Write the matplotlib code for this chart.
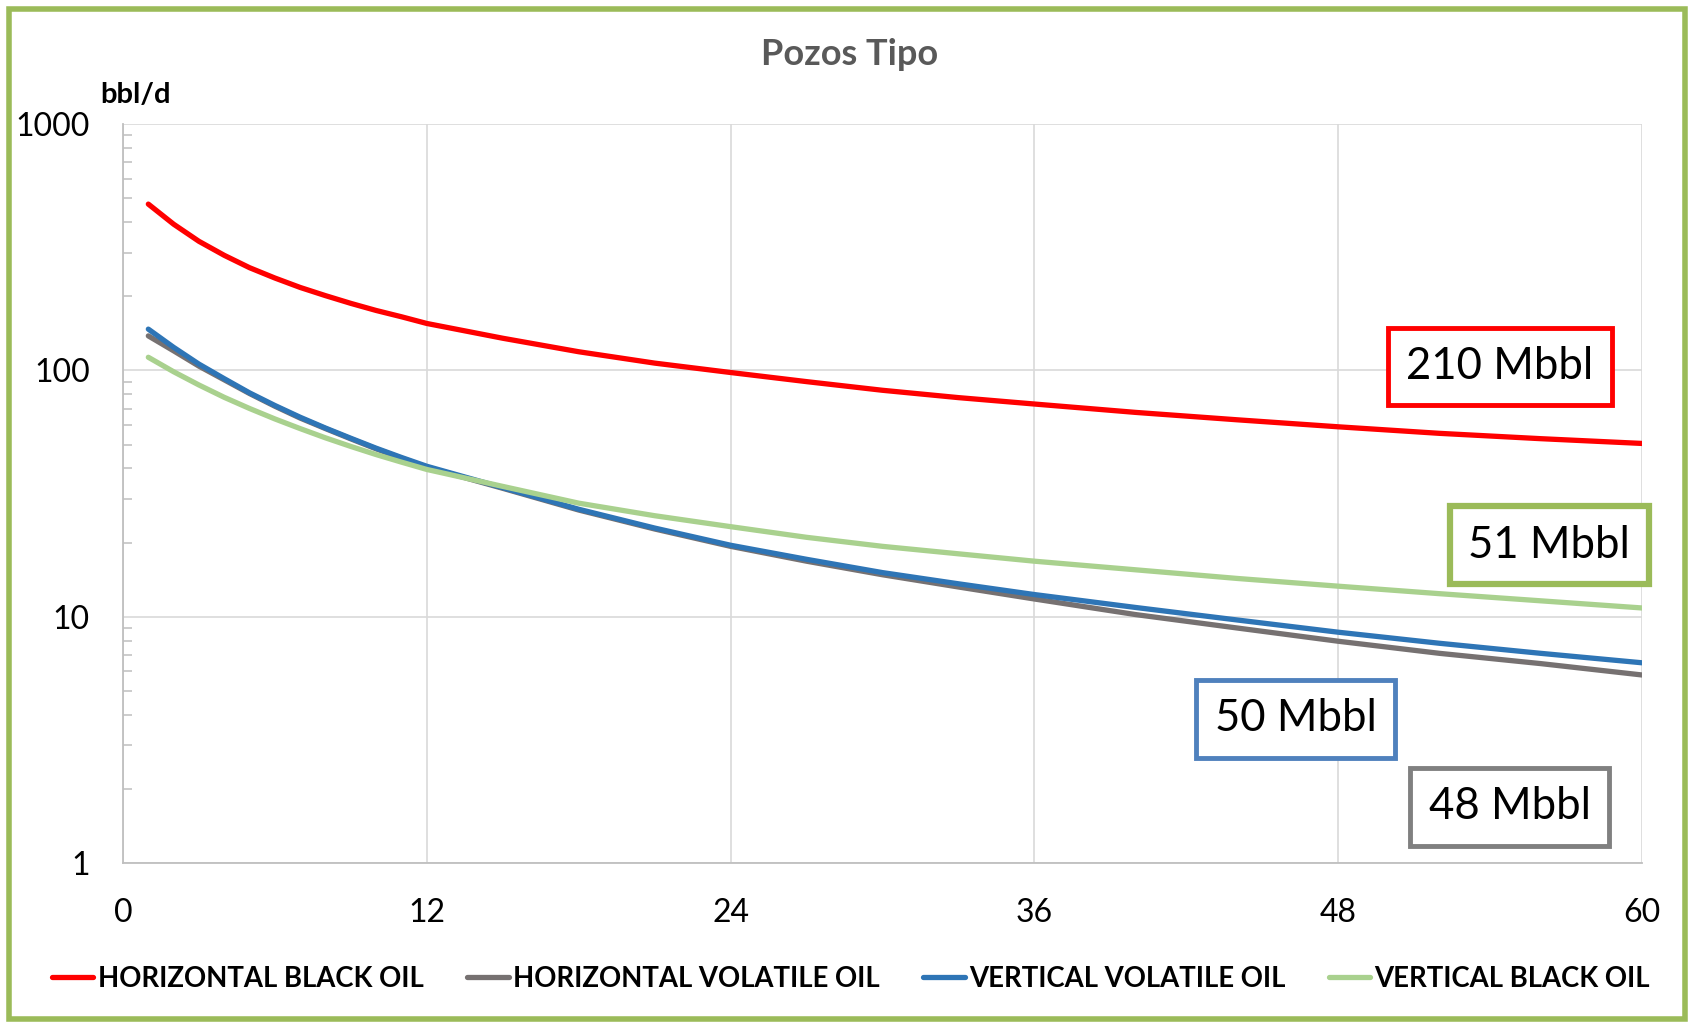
import matplotlib
matplotlib.use("Agg")
import matplotlib.pyplot as plt
from matplotlib.patches import Rectangle

plt.rcParams["font.family"] = ["Lato", "DejaVu Sans"]

months = [1, 2, 3, 4, 5, 6, 7, 8, 9, 10, 11, 12, 15, 18, 21, 24, 27, 30, 33, 36,
          40, 44, 48, 52, 56, 60]

horizontal_black = [473, 392, 334, 293, 261, 237, 217, 201, 187, 175, 165, 155, 135, 119, 107,
                    98, 90, 83, 77.5, 73, 67.5, 63, 59, 55.5, 52.8, 50.5]
horizontal_volatile = [138, 120, 104, 91.5, 80.5, 71.5, 64, 58, 52.7, 48, 44, 40.5, 33.2, 27.1,
                       22.7, 19.3, 16.8, 14.8, 13.2, 11.8, 10.2, 9.0, 7.95, 7.1, 6.45, 5.8]
vertical_volatile = [147, 124, 106, 92.5, 81, 72, 64.5, 58.3, 53, 48.3, 44.3, 40.8, 33.4, 27.3,
                     22.9, 19.5, 17.1, 15.1, 13.6, 12.3, 10.9, 9.7, 8.65, 7.8, 7.1, 6.5]
vertical_black = [113, 98.7, 87.2, 77.7, 70, 63.5, 58, 53.2, 49.1, 45.5, 42.4, 39.6, 33.8, 28.9,
                  25.7, 23.2, 21, 19.3, 18, 16.8, 15.5, 14.3, 13.3, 12.4, 11.6, 10.85]

series = [
    ("HORIZONTAL BLACK OIL", horizontal_black, "#FF0000"),
    ("HORIZONTAL VOLATILE OIL", horizontal_volatile, "#767171"),
    ("VERTICAL VOLATILE OIL", vertical_volatile, "#2E75B6"),
    ("VERTICAL BLACK OIL", vertical_black, "#A9D18E"),
]

# cumulative volume labels: text, edge colour, edge width, centre (axes fraction)
boxes = [
    ("210 Mbbl", "#FF0000", 3.5, (0.9065, 0.672)),
    ("51 Mbbl", "#9BBB59", 4.5, (0.939, 0.430)),
    ("50 Mbbl", "#4F81BD", 3.5, (0.772, 0.195)),
    ("48 Mbbl", "#808080", 3.5, (0.913, 0.076)),
]

fig = plt.figure(figsize=(16.92, 10.24), dpi=100)
ax = fig.add_axes([0.0727, 0.1572, 0.8977, 0.7217])

for name, values, color in series:
    ax.plot(months, values, color=color, lw=3.8, label=name, solid_capstyle="round",
            solid_joinstyle="round")

ax.set_yscale("log")
ax.set_ylim(1, 1000)
ax.set_xlim(0, 60)
ax.set_xticks([0, 12, 24, 36, 48, 60])
ax.set_yticks([1, 10, 100, 1000])
ax.set_yticklabels(["1", "10", "100", "1000"])
ax.grid(True, which="major", color="#D9D9D9", lw=1.2)
ax.set_axisbelow(True)

for side in ["top", "right"]:
    ax.spines[side].set_visible(False)
for side in ["left", "bottom"]:
    ax.spines[side].set_color("#BFBFBF")
    ax.spines[side].set_linewidth(1.3)

ax.tick_params(axis="x", length=0, pad=25, labelsize=23)
ax.tick_params(axis="y", which="major", length=0, pad=24, labelsize=23)
ax.tick_params(axis="y", which="minor", direction="in", length=6.5, width=1.1, color="#BFBFBF")
ax.yaxis.set_minor_formatter(plt.NullFormatter())

for text, color, edge_w, (bx, by) in boxes:
    ax.text(bx, by, text, transform=ax.transAxes, ha="center", va="center", fontsize=31.5,
            color="black",
            bbox=dict(boxstyle="square,pad=0.42", facecolor="white", edgecolor=color,
                      linewidth=edge_w))

fig.text(0.502, 0.947, "Pozos Tipo", ha="center", va="center", fontsize=26,
         fontweight="bold", color="#595959")
fig.text(0.059, 0.907, "bbl/d", ha="left", va="center", fontsize=21, fontweight="bold",
         color="black")

leg = fig.legend(loc="center", bbox_to_anchor=(0.503, 0.044), ncol=4, frameon=False,
                 fontsize=19.8, handlelength=1.5, handletextpad=0.15, columnspacing=1.6)
for t in leg.get_texts():
    t.set_fontweight("bold")

fig.patches.append(Rectangle((0.0055, 0.005), 0.9905, 0.986, transform=fig.transFigure,
                             fill=False, edgecolor="#9BBB59", linewidth=4))

fig.savefig("out.png", dpi=100)
